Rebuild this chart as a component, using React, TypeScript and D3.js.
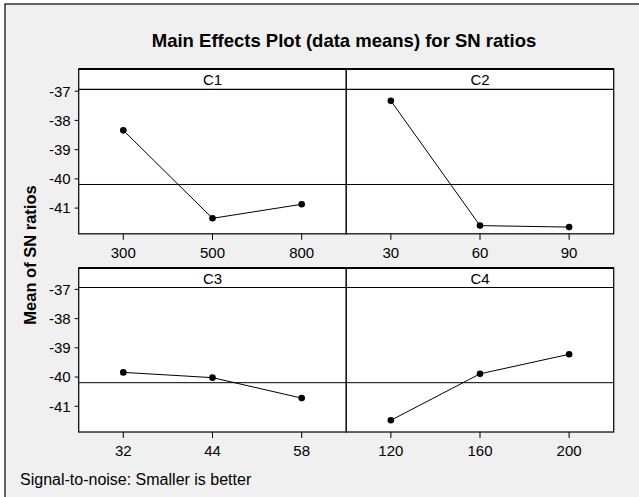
import React from "react";
import * as d3 from "d3";

const TITLE = "Main Effects Plot (data means) for SN ratios";
const Y_LABEL = "Mean of SN ratios";
const FOOTER = "Signal-to-noise: Smaller is better";

const FACTORS = ["C1", "C2", "C3", "C4"];
const C1_LEVELS = ["300", "500", "800"];
const C1_MEANS = [-38.34, -41.35, -40.87];
const C2_LEVELS = ["30", "60", "90"];
const C2_MEANS = [-37.33, -41.6, -41.65];
const C3_LEVELS = ["32", "44", "58"];
const C3_MEANS = [-39.84, -40.02, -40.72];
const C4_LEVELS = ["120", "160", "200"];
const C4_MEANS = [-41.48, -39.89, -39.22];
const Y_TICKS = [-37, -38, -39, -40, -41];
const Y_DOMAIN = [-41.88, -36.935];

const W = 639;
const H = 497;
const FONT = "'Liberation Sans', Arial, Helvetica, sans-serif";

const COLS = [78.7, 346.3, 613.7];
const ROWS = [
  { stripTop: 69, plotTop: 89.3, plotBottom: 233.8 },
  { stripTop: 268, plotTop: 287.5, plotBottom: 432 },
];

export default function App() {
  const panels = [
    { name: FACTORS[0], levels: C1_LEVELS, means: C1_MEANS, r: 0, c: 0 },
    { name: FACTORS[1], levels: C2_LEVELS, means: C2_MEANS, r: 0, c: 1 },
    { name: FACTORS[2], levels: C3_LEVELS, means: C3_MEANS, r: 1, c: 0 },
    { name: FACTORS[3], levels: C4_LEVELS, means: C4_MEANS, r: 1, c: 1 },
  ];
  const grand = d3.mean([...C1_MEANS, ...C2_MEANS, ...C3_MEANS, ...C4_MEANS]) as number;

  return (
    <svg
      width={W}
      height={H}
      style={{ position: "absolute", left: 0, top: 0, fontFamily: FONT }}
    >
      <rect x={0} y={0} width={W} height={H} fill="#ffffff" />
      <rect x={5} y={4} width={W + 10} height={H + 10} fill="#f0f0f0" stroke="#000" strokeWidth={1.2} />
      <text x={344} y={46.5} textAnchor="middle" fontSize={18.5} fontWeight="bold" fill="#000">
        {TITLE}
      </text>
      <text
        transform={`translate(35.5,255) rotate(-90)`}
        textAnchor="middle"
        fontSize={16.5}
        fontWeight="bold"
        fill="#000"
      >
        {Y_LABEL}
      </text>
      {panels.map((p) => {
        const row = ROWS[p.r];
        const x0 = COLS[p.c];
        const x1 = COLS[p.c + 1];
        const x = d3.scalePoint<string>().domain(p.levels).range([x0, x1]).padding(0.5);
        const y = d3.scaleLinear().domain(Y_DOMAIN).range([row.plotBottom, row.plotTop]);
        const line = d3
          .line<number>()
          .x((_, i) => x(p.levels[i]) as number)
          .y((d) => y(d));
        return (
          <g key={p.name}>
            <rect x={x0} y={row.stripTop} width={x1 - x0} height={row.plotBottom - row.stripTop} fill="#fff" />
            <text x={(x0 + x1) / 2} y={row.stripTop + 15.5} textAnchor="middle" fontSize={15} fill="#000">
              {p.name}
            </text>
            <line x1={x0} x2={x1} y1={row.plotTop} y2={row.plotTop} stroke="#000" strokeWidth={1.2} />
            <line x1={x0} x2={x1} y1={y(grand)} y2={y(grand)} stroke="#000" strokeWidth={1} />
            <path d={line(p.means) || ""} fill="none" stroke="#000" strokeWidth={1} />
            {p.means.map((m, i) => (
              <circle key={i} cx={x(p.levels[i]) as number} cy={y(m)} r={3.3} fill="#000" />
            ))}
            <rect
              x={x0}
              y={row.stripTop}
              width={x1 - x0}
              height={row.plotBottom - row.stripTop}
              fill="none"
              stroke="#111"
              strokeWidth={1.3}
            />
            <line x1={x0} x2={x1} y1={row.stripTop} y2={row.stripTop} stroke="#000" strokeWidth={2} />
            {p.levels.map((lv) => (
              <g key={lv}>
                <line
                  x1={x(lv) as number}
                  x2={x(lv) as number}
                  y1={row.plotBottom}
                  y2={row.plotBottom + 6}
                  stroke="#000"
                  strokeWidth={1}
                />
                <text x={x(lv) as number} y={row.plotBottom + 24} textAnchor="middle" fontSize={15} fill="#000">
                  {lv}
                </text>
              </g>
            ))}
            {p.c === 0 &&
              Y_TICKS.map((t) => (
                <g key={t}>
                  <line x1={x0 - 4} x2={x0} y1={y(t)} y2={y(t)} stroke="#000" strokeWidth={1} />
                  <text x={x0 - 8} y={y(t)} dy="0.36em" textAnchor="end" fontSize={15} fill="#000">
                    {t}
                  </text>
                </g>
              ))}
          </g>
        );
      })}
      <text x={20} y={485} fontSize={16} fill="#000">
        {FOOTER}
      </text>
    </svg>
  );
}
